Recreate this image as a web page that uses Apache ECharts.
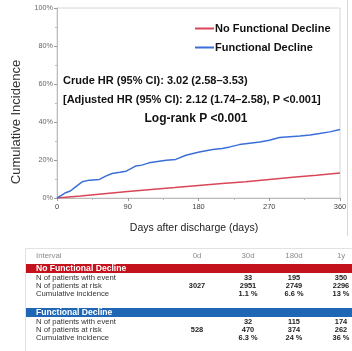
<!DOCTYPE html>
<html>
<head>
<meta charset="utf-8">
<script src="https://cdn.jsdelivr.net/npm/echarts@6/dist/echarts.min.js"></script>
<style>
  html, body { margin: 0; padding: 0; background: #fff; }
  #chart { width: 352px; height: 351px; }
</style>
</head>
<body>
<div id="chart"></div>
<script>
// Cumulative incidence curves (percent) by day after discharge
const declineDays = [0, 5, 11, 17, 24, 32, 41, 54, 62, 70, 80, 88, 100, 108, 117, 128, 139, 151, 164, 181, 198, 210, 220, 232, 245, 258, 270, 283, 296, 309, 322, 334, 347, 360];
const declineValues = [0, 1.3, 2.8, 3.7, 6.0, 8.5, 9.4, 9.8, 11.5, 12.9, 13.5, 14.1, 16.8, 17.3, 18.5, 19.2, 19.9, 20.3, 22.5, 24.2, 25.5, 26.1, 26.9, 28.1, 28.8, 29.5, 30.4, 31.8, 32.2, 32.6, 33.2, 33.9, 34.8, 36.0];
const noDeclineDays = [0, 30, 60, 90, 120, 150, 180, 210, 240, 270, 300, 330, 360];
const noDeclineValues = [0, 1.1, 2.3, 3.4, 4.5, 5.5, 6.6, 7.6, 8.6, 9.8, 10.9, 12.0, 13.2];

// Risk table
const intervals = ['0d', '30d', '180d', '1y'];
const rowLabels = ['N of patients with event', 'N of patients at risk', 'Cumulative incidence'];
const noDeclineEvents = ['', '33', '195', '350'];
const noDeclineAtRisk = ['3027', '2951', '2749', '2296'];
const noDeclineCumInc = ['', '1.1 %', '6.6 %', '13 %'];
const declineEvents = ['', '32', '115', '174'];
const declineAtRisk = ['528', '470', '374', '262'];
const declineCumInc = ['', '6.3 %', '24 %', '36 %'];

const FONT = '"Liberation Sans", Arial, sans-serif';
const RED = '#d94658';
const BLUE = '#3b6fd8';

const chart = echarts.init(document.getElementById('chart'), null, { renderer: 'canvas' });

const pairs = (xs, ys) => xs.map((x, i) => [x, ys[i]]);

// Table graphics
const colX = [197, 248, 294, 341];
const tableEls = [];
tableEls.push({ type: 'line', shape: { x1: 25.5, y1: 248.5, x2: 352, y2: 248.5 }, style: { stroke: '#e2e2e2', lineWidth: 1 } });
tableEls.push({ type: 'line', shape: { x1: 25.5, y1: 248.5, x2: 25.5, y2: 351 }, style: { stroke: '#e2e2e2', lineWidth: 1 } });
tableEls.push({ type: 'text', style: { x: 36, y: 256, text: 'Interval', font: '7.8px ' + FONT, fill: '#8a8a8a', verticalAlign: 'middle' } });
intervals.forEach((t, i) => {
  tableEls.push({ type: 'text', style: { x: colX[i], y: 256, text: t, font: '7.8px ' + FONT, fill: '#8a8a8a', align: 'center', verticalAlign: 'middle' } });
});

function group(bandY, title, color, rows) {
  tableEls.push({ type: 'rect', shape: { x: 26, y: bandY, width: 326, height: 9 }, style: { fill: color } });
  tableEls.push({ type: 'text', style: { x: 36, y: bandY + 4.7, text: title, font: 'bold 8.6px ' + FONT, fill: '#fff', verticalAlign: 'middle' } });
  rows.forEach((vals, r) => {
    const y = bandY + 14 + r * 7.8;
    tableEls.push({ type: 'text', style: { x: 36, y: y, text: rowLabels[r], font: '7.7px ' + FONT, fill: '#333', verticalAlign: 'middle' } });
    vals.forEach((v, i) => {
      if (v) tableEls.push({ type: 'text', style: { x: colX[i], y: y, text: v, font: 'bold 7.4px ' + FONT, fill: '#222', align: 'center', verticalAlign: 'middle' } });
    });
  });
}
group(264, 'No Functional Decline', '#c4121c', [noDeclineEvents, noDeclineAtRisk, noDeclineCumInc]);
group(308, 'Functional Decline', '#1f67b5', [declineEvents, declineAtRisk, declineCumInc]);

const option = {
  animation: false,
  backgroundColor: '#fff',
  grid: { left: 57, top: 8, width: 283, height: 190, show: true, borderColor: '#d6d6d6', borderWidth: 1, backgroundColor: 'transparent' },
  legend: {
    orient: 'vertical',
    left: 190, top: 18,
    itemGap: 8,
    itemWidth: 19, itemHeight: 2,
    icon: 'rect',
    textStyle: { fontFamily: FONT, fontWeight: 'bold', fontSize: 11, color: '#111', padding: [0, 0, 0, -4] },
    data: ['No Functional Decline', 'Functional Decline']
  },
  xAxis: {
    type: 'value', min: 0, max: 360, interval: 90,
    axisLine: { show: true, lineStyle: { color: '#bbb' } },
    axisTick: { show: true, length: 3, lineStyle: { color: '#999' } },
    minorTick: { show: true, splitNumber: 2, length: 2, lineStyle: { color: '#bbb' } },
    splitLine: { show: false },
    axisLabel: { fontFamily: FONT, fontSize: 7.5, color: '#444', margin: 5 }
  },
  yAxis: {
    type: 'value', min: 0, max: 100, interval: 20,
    axisLine: { show: true, lineStyle: { color: '#bbb' } },
    axisTick: { show: true, length: 3, lineStyle: { color: '#999' } },
    minorTick: { show: true, splitNumber: 2, length: 2, lineStyle: { color: '#bbb' } },
    splitLine: { show: false },
    axisLabel: { fontFamily: FONT, fontSize: 7.2, color: '#666', margin: 4, formatter: '{value}%' }
  },
  series: [
    { name: 'No Functional Decline', type: 'line', data: pairs(noDeclineDays, noDeclineValues), showSymbol: false, color: RED, lineStyle: { width: 1.5, color: RED } },
    { name: 'Functional Decline', type: 'line', data: pairs(declineDays, declineValues), showSymbol: false, color: BLUE, lineStyle: { width: 1.5, color: BLUE } }
  ],
  graphic: [
    { type: 'line', shape: { x1: 347.5, y1: 0, x2: 347.5, y2: 236 }, style: { stroke: '#d8d8d8', lineWidth: 1 } },
    { type: 'text', rotation: Math.PI / 2, x: 16, y: 122, style: { text: 'Cumulative Incidence', font: '13px ' + FONT, fill: '#333', align: 'center', verticalAlign: 'middle' } },
    { type: 'text', x: 194, y: 228, style: { text: 'Days after discharge (days)', font: '10.5px ' + FONT, fill: '#222', align: 'center', verticalAlign: 'middle' } },
    { type: 'text', x: 63, y: 81, style: { text: 'Crude HR (95% CI): 3.02 (2.58\u20133.53)', font: 'bold 11px ' + FONT, fill: '#111', verticalAlign: 'middle' } },
    { type: 'text', x: 63, y: 99.5, style: { text: '[Adjusted HR (95% CI): 2.12 (1.74\u20132.58), P <0.001]', font: 'bold 11px ' + FONT, fill: '#111', verticalAlign: 'middle' } },
    { type: 'text', x: 196, y: 119, style: { text: 'Log-rank P <0.001', font: 'bold 12px ' + FONT, fill: '#111', align: 'center', verticalAlign: 'middle' } }
  ].concat(tableEls)
};

chart.setOption(option);
</script>
</body>
</html>
